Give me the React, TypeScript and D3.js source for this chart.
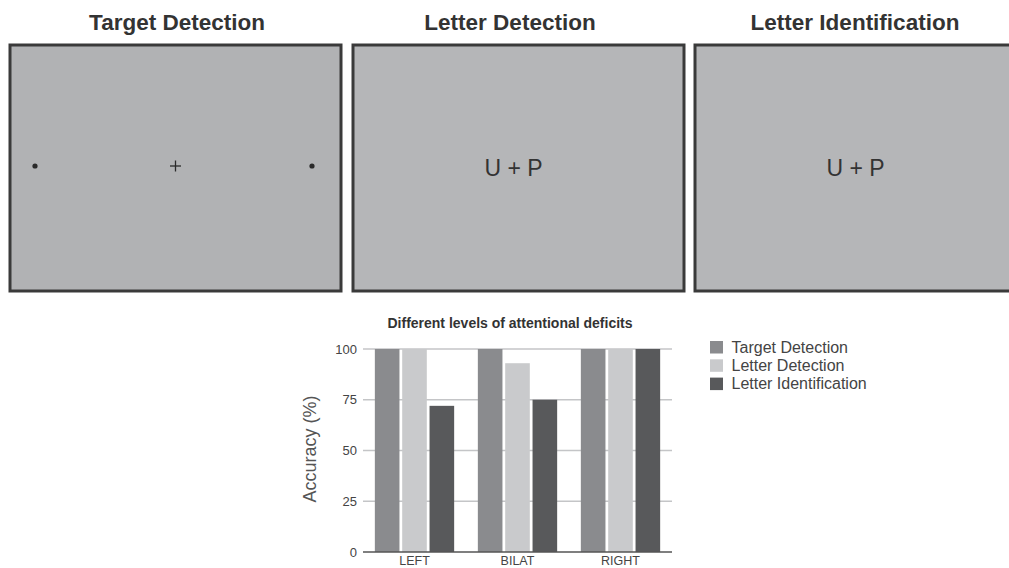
import React from "react";
import * as d3 from "d3";

const panelTitles = ["Target Detection", "Letter Detection", "Letter Identification"];
const panelStimuli = ["dots", "U + P", "U + P"];

const chartTitle = "Different levels of attentional deficits";
const categories = ["LEFT", "BILAT", "RIGHT"];
const seriesNames = ["Target Detection", "Letter Detection", "Letter Identification"];
const targetDetection = [100, 100, 100];
const letterDetection = [100, 93, 100];
const letterIdentification = [72, 75, 100];
const yTicks = [0, 25, 50, 75, 100];
const yLabel = "Accuracy (%)";

const seriesValues = [targetDetection, letterDetection, letterIdentification];
const colors = ["#8a8b8e", "#c9cacc", "#58595b"];

const FONT = "'Liberation Sans', Arial, Helvetica, sans-serif";

export default function App() {
  const W = 1009, H = 568;
  const panelX = [10, 353, 695];
  const panelW = 331;
  const panelY = 45, panelH = 246;
  const titleX = [177, 510, 855];

  const x0 = d3.scaleBand<string>().domain(categories).range([363, 672]).paddingInner(0.23).paddingOuter(0.115);
  const x1 = d3.scaleBand<string>().domain(seriesNames).range([0, x0.bandwidth()]).paddingInner(0.1);
  const y = d3.scaleLinear().domain([0, 100]).range([552, 349]);

  return (
    <svg width={W} height={H} style={{ position: "absolute", left: 0, top: 0, background: "#fff" }} fontFamily={FONT}>
      <rect width={W} height={H} fill="#fff" />
      {panelTitles.map((t, i) => {
        const cx = panelX[i] + panelW / 2;
        const cy = panelY + panelH / 2;
        return (
          <g key={t}>
            <text x={titleX[i]} y={30} textAnchor="middle" fontSize={22.5} fontWeight="bold" fill="#333">{t}</text>
            <rect x={panelX[i]} y={panelY} width={panelW} height={panelH} fill={i === 0 ? "#b1b2b4" : "#b5b6b8"} stroke="#3a3a3a" strokeWidth={3} />
            {panelStimuli[i] === "dots" ? (
              <g fill="#2a2a2a" stroke="#2a2a2a">
                <circle cx={panelX[i] + 25} cy={166} r={2.6} stroke="none" />
                <circle cx={panelX[i] + 302} cy={166} r={2.6} stroke="none" />
                <line x1={cx - 5.5} x2={cx + 5.5} y1={166} y2={166} strokeWidth={1.3} />
                <line x1={cx} x2={cx} y1={160.5} y2={171.5} strokeWidth={1.3} />
              </g>
            ) : (
              <text x={cx - 5} y={cy + 8} textAnchor="middle" fontSize={23} fill="#333">{panelStimuli[i]}</text>
            )}
          </g>
        );
      })}

      <text x={510} y={328} textAnchor="middle" fontSize={14} fontWeight="bold" fill="#333">{chartTitle}</text>

      {yTicks.map((t) => (
        <g key={t}>
          {t > 0 && <line x1={363} x2={672} y1={y(t)} y2={y(t)} stroke="#c4c5c7" strokeWidth={1.5} />}
          <text x={357} y={y(t) + 4.5} textAnchor="end" fontSize={13} fill="#444">{t}</text>
        </g>
      ))}

      {categories.map((c, ci) => (
        <g key={c} transform={`translate(${x0(c)},0)`}>
          {seriesNames.map((s, si) => (
            <rect key={s} x={x1(s)} y={y(seriesValues[si][ci])} width={x1.bandwidth()} height={y(0) - y(seriesValues[si][ci])} fill={colors[si]} />
          ))}
        </g>
      ))}

      <line x1={363} x2={672} y1={y(0)} y2={y(0)} stroke="#555" strokeWidth={1.5} />

      {categories.map((c) => (
        <text key={c} x={(x0(c) as number) + x0.bandwidth() / 2} y={565} textAnchor="middle" fontSize={12.5} fill="#444">{c}</text>
      ))}

      <text transform={`translate(316,449) rotate(-90)`} textAnchor="middle" fontSize={18} fill="#555">{yLabel}</text>

      {seriesNames.map((s, i) => (
        <g key={s} transform={`translate(710,${341 + i * 18.3})`}>
          <rect x={0} y={0} width={13} height={12.5} fill={colors[i]} />
          <text x={21.5} y={11.5} fontSize={16} fill="#444">{s}</text>
        </g>
      ))}
    </svg>
  );
}
